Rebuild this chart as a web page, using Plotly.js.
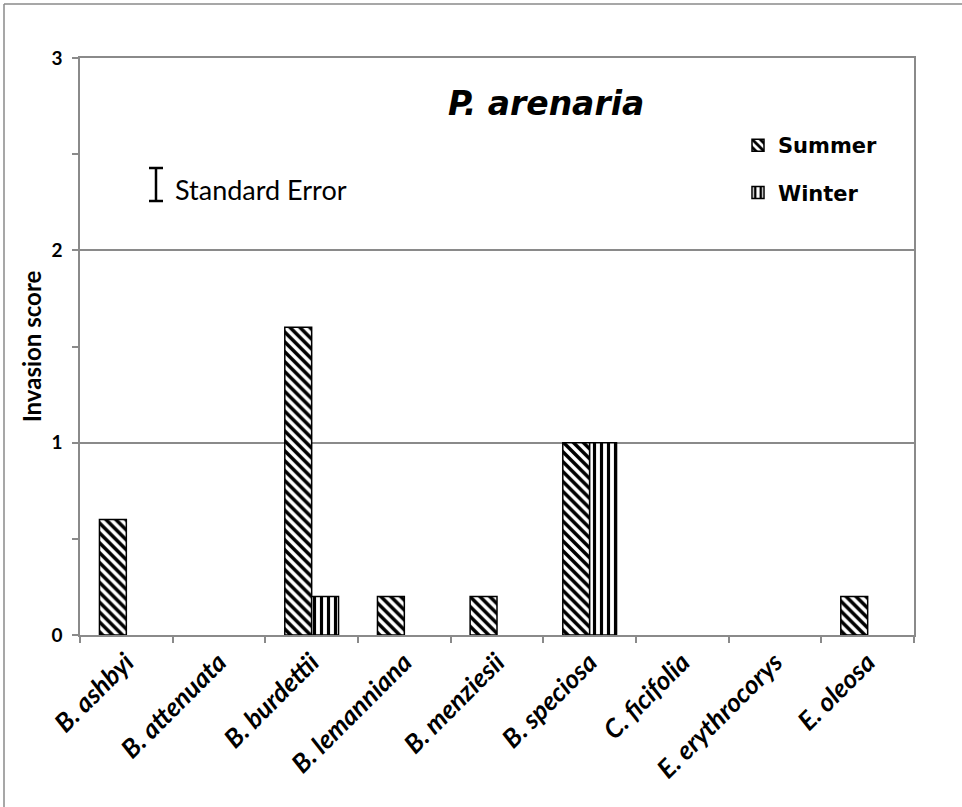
<!DOCTYPE html>
<html>
<head>
<meta charset="utf-8">
<script src="https://cdn.plot.ly/plotly-3.0.1.min.js"></script>
<style>
  html, body { margin: 0; padding: 0; background: #fff; }
  #chart { width: 962px; height: 807px; }
</style>
</head>
<body>
<div id="chart"></div>
<script>
const categories = ["B. ashbyi", "B. attenuata", "B. burdettii", "B. lemanniana", "B. menziesii",
                    "B. speciosa", "C. ficifolia", "E. erythrocorys", "E. oleosa"];
const summerValues = [0.6, 0, 1.6, 0.2, 0.2, 1.0, 0, 0, 0.2];
const winterValues = [0, 0, 0.2, 0, 0, 1.0, 0, 0, 0];
const yTickValues = [0, 1, 2, 3];
const yTickLabels = ["0", "1", "2", "3"];

const FONT = "Lato, 'Open Sans', sans-serif";
const WIDE = "'DejaVu Sans', Lato, sans-serif";
const GREY = "#8a8a8a";

// zero-height bars show no outline (as in the reference)
const outline = vals => vals.map(v => (v === 0 ? 0 : 1.5));

const summerPattern = { shape: "\\", fgcolor: "black", bgcolor: "white", size: 7, solidity: 0.5 };
const winterPattern = { shape: "|", fgcolor: "black", bgcolor: "white", size: 7, solidity: 0.45 };

const summer = {
  type: "bar", name: "Summer", x: categories, y: summerValues,
  legendgroup: "s", offsetgroup: "s", legendrank: 1,
  marker: { color: "white", line: { color: "black", width: outline(summerValues) }, pattern: summerPattern },
  hoverinfo: "x+y"
};
const winter = {
  type: "bar", name: "Winter", x: categories, y: winterValues,
  legendgroup: "w", offsetgroup: "w", showlegend: false,
  marker: { color: "white", line: { color: "black", width: outline(winterValues) }, pattern: winterPattern },
  hoverinfo: "x+y"
};
// legend entry for Winter (no marks of its own)
const winterLegend = {
  type: "bar", name: "Winter", x: [categories[0]], y: [null],
  legendgroup: "w", offsetgroup: "w", legendrank: 2, showlegend: true,
  marker: { color: "white", line: { color: "black", width: 1.5 }, pattern: winterPattern },
  hoverinfo: "skip"
};

// pixel -> paper helpers (plot area: x 80..914, y 58..635)
const px = v => (v - 80) / 834;
const py = v => (635 - v) / 577;

const layout = {
  width: 962, height: 807,
  margin: { l: 80, r: 48, t: 58, b: 172 },
  paper_bgcolor: "white", plot_bgcolor: "white",
  font: { family: FONT, color: "black" },
  barmode: "group", bargap: 0.42, bargroupgap: 0,
  showlegend: true,
  legend: {
    x: px(738), y: py(125), xanchor: "left", yanchor: "top",
    font: { size: 21, family: WIDE, weight: "bold", color: "black" },
    traceorder: "grouped", tracegroupgap: 17,
    bgcolor: "rgba(0,0,0,0)", itemwidth: 30
  },
  xaxis: {
    type: "category",
    categoryorder: "array", categoryarray: categories,
    tickangle: -45,
    tickson: "boundaries",
    ticks: "outside", ticklen: 6, tickcolor: GREY, tickwidth: 1.5,
    showline: true, linecolor: GREY, linewidth: 1.5, mirror: true,
    showgrid: false,
    tickfont: { size: 26, family: FONT, weight: "bold", style: "italic", color: "black" },
    fixedrange: true
  },
  yaxis: {
    range: [0, 3],
    tickvals: yTickValues, ticktext: yTickLabels,
    ticks: "outside", ticklen: 6, tickcolor: GREY, tickwidth: 1.5,
    ticklabelstandoff: 6,
    minor: { dtick: 0.5, ticks: "outside", ticklen: 6, tickcolor: GREY, tickwidth: 1.5, showgrid: false },
    showline: true, linecolor: GREY, linewidth: 1.5, mirror: true,
    showgrid: true, gridcolor: GREY, gridwidth: 1.5,
    zeroline: false,
    tickfont: { size: 19, family: FONT, weight: "bold", color: "black" },
    title: { text: "Invasion score", font: { size: 24, family: FONT, weight: "bold", color: "black" }, standoff: 3 },
    fixedrange: true
  },
  annotations: [
    { xref: "paper", yref: "paper", x: px(546), y: py(103), xanchor: "center", yanchor: "middle",
      text: "P. arenaria", showarrow: false,
      font: { size: 33, family: WIDE, weight: "bold", style: "italic", color: "black" } },
    { xref: "paper", yref: "paper", x: px(173), y: py(190), xanchor: "left", yanchor: "middle",
      text: "Standard Error", showarrow: false,
      font: { size: 27, family: FONT, color: "black" } }
  ],
  shapes: [
    // Standard error legend symbol
    { type: "line", xref: "paper", yref: "paper", x0: px(156), x1: px(156), y0: py(168), y1: py(201), line: { color: "black", width: 2.5 } },
    { type: "line", xref: "paper", yref: "paper", x0: px(149), x1: px(163), y0: py(168), y1: py(168), line: { color: "black", width: 2.5 } },
    { type: "line", xref: "paper", yref: "paper", x0: px(149), x1: px(163), y0: py(201), y1: py(201), line: { color: "black", width: 2.5 } },
    // outer chart border (top & left visible)
    { type: "line", xref: "paper", yref: "paper", x0: px(4), x1: px(975), y0: py(4), y1: py(4), line: { color: GREY, width: 1.5 } },
    { type: "line", xref: "paper", yref: "paper", x0: px(4), x1: px(4), y0: py(4), y1: py(820), line: { color: GREY, width: 1.5 } }
  ]
};

Plotly.newPlot("chart", [summer, winter, winterLegend], layout, { displayModeBar: false });
</script>
</body>
</html>
